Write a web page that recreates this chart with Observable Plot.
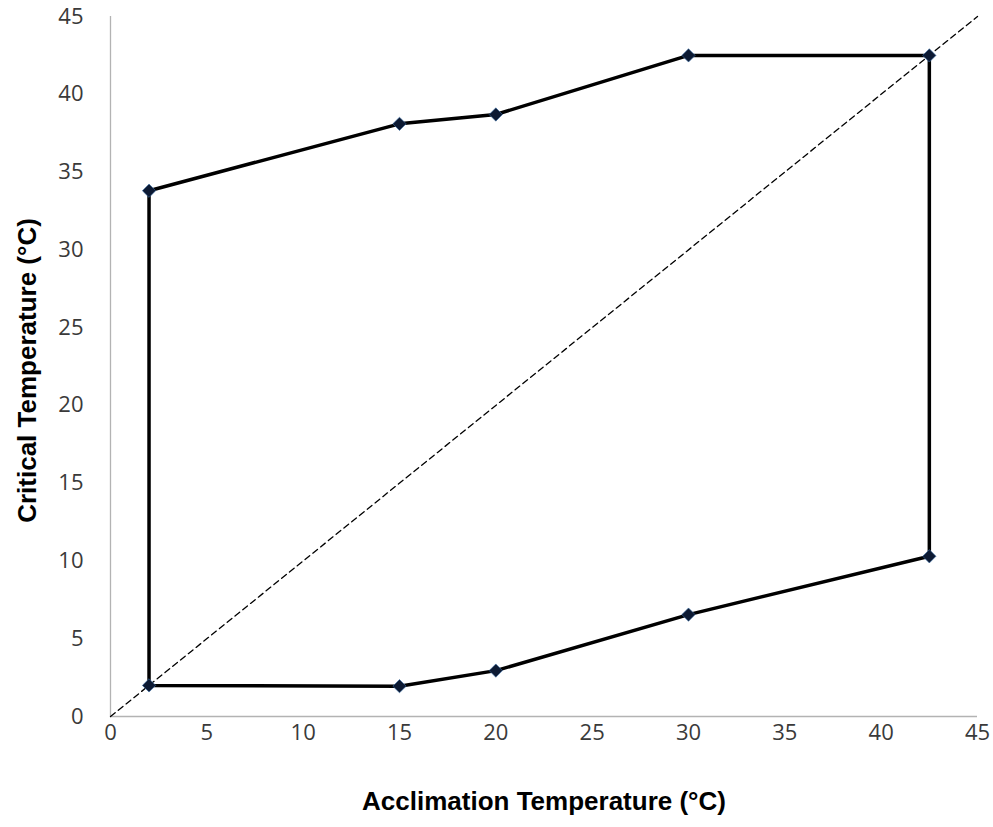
<!DOCTYPE html>
<html>
<head>
<meta charset="utf-8">
<script src="https://cdn.jsdelivr.net/npm/d3@7"></script>
<script src="https://cdn.jsdelivr.net/npm/@observablehq/plot@0.6"></script>
<style>
  html, body { margin: 0; padding: 0; background: #fff; }
  #chart { width: 993px; height: 827px; }
</style>
</head>
<body>
<div id="chart"></div>
<script>
// Acclimation temperatures (°C)
const acclimation = [2, 15, 20, 30, 42.5];
// Upper critical temperatures (°C)
const upperCritical = [33.8, 38.1, 38.7, 42.5, 42.5];
// Lower critical temperatures (°C)
const lowerCritical = [2.0, 1.95, 2.95, 6.55, 10.3];
const ticks = [0, 5, 10, 15, 20, 25, 30, 35, 40, 45];
const xTitle = "Acclimation Temperature (°C)";
const yTitle = "Critical Temperature (°C)";

// closed polygon: upper left->right, then lower right->left, back to start
const polygon = [
  ...acclimation.map((a, i) => ({x: a, y: upperCritical[i]})),
  ...acclimation.map((a, i) => ({x: a, y: lowerCritical[i]})).reverse(),
  {x: acclimation[0], y: upperCritical[0]}
];
const points = [
  ...acclimation.map((a, i) => ({x: a, y: upperCritical[i]})),
  ...acclimation.map((a, i) => ({x: a, y: lowerCritical[i]}))
];
const diagonal = [{x: 0, y: 0}, {x: 45, y: 45}];

const chart = Plot.plot({
  width: 993,
  height: 827,
  marginLeft: 110,
  marginRight: 16,
  marginTop: 16,
  marginBottom: 111,
  style: {fontFamily: "'Open Sans', 'Liberation Sans', sans-serif", fontSize: "22px", color: "#3a3a3a", background: "#fff"},
  x: {domain: [0, 45], ticks: ticks, label: null},
  y: {domain: [0, 45], ticks: ticks, label: null},
  marks: [
    Plot.ruleX([0], {stroke: "#b3b3b3", strokeWidth: 1.3}),
    Plot.ruleY([0], {stroke: "#b3b3b3", strokeWidth: 1.3}),
    Plot.axisX({ticks: ticks, tickSize: 0, tickPadding: 8, fontSize: 22, fill: "#3a3a3a", label: null}),
    Plot.axisY({ticks: ticks, tickSize: 0, tickPadding: 27, fontSize: 22, fill: "#3a3a3a", label: null}),
    Plot.line(diagonal, {x: "x", y: "y", stroke: "#000", strokeWidth: 1.3, strokeDasharray: "6,4"}),
    Plot.line(polygon, {x: "x", y: "y", stroke: "#000", strokeWidth: 3.5, strokeLinejoin: "miter"}),
    Plot.dot(points, {x: "x", y: "y", symbol: "diamond2", r: 6, fill: "#0d1a33", stroke: "#3a6ea8", strokeWidth: 0.6}),
    Plot.text([xTitle], {frameAnchor: "bottom", lineAnchor: "middle", dy: 85, fontSize: 26, fontWeight: "bold", fill: "#000", fontFamily: "'Liberation Sans', Arial, sans-serif"}),
    Plot.text([yTitle], {frameAnchor: "left", textAnchor: "middle", lineAnchor: "middle", dx: -83, dy: 4, rotate: -90, fontSize: 26, fontWeight: "bold", fill: "#000", fontFamily: "'Liberation Sans', Arial, sans-serif"})
  ]
});
document.getElementById("chart").appendChild(chart);
</script>
</body>
</html>
